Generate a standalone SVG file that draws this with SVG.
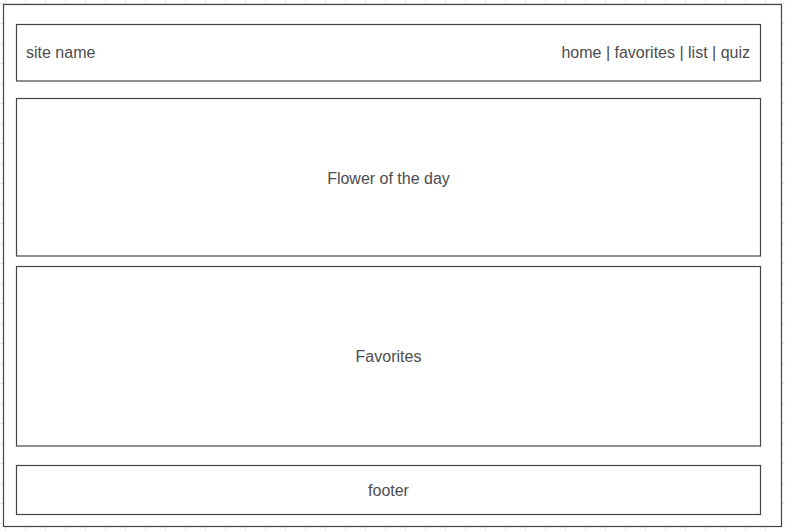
<svg xmlns="http://www.w3.org/2000/svg" width="785" height="531" viewBox="0 0 785 531">
<defs>
<pattern id="grid" x="5" y="3" width="20" height="20" patternUnits="userSpaceOnUse">
<path d="M0.5 0 V20 M0 0.5 H20" fill="none" stroke="#e6e6e6" stroke-width="1"/>
</pattern>
</defs>
<style>
.box{fill:#ffffff;stroke:#444444;stroke-width:1.2}
.lbl{font-family:"Liberation Sans",Arial,sans-serif;font-size:16px;fill:#4d4d4d}
</style>
<rect x="0" y="0" width="785" height="531" fill="#ffffff"/>
<rect x="0" y="0" width="785" height="531" fill="url(#grid)"/>
<g id="page"><rect class="box" x="3.5" y="4.5" width="778" height="522"/></g>
<g id="header">
<rect class="box" x="16.5" y="24.5" width="744" height="56.5"/>
<text class="lbl" x="26" y="58">site name</text>
<text class="lbl" x="750" y="58" text-anchor="end">home | favorites | list | quiz</text>
</g>
<g id="flower">
<rect class="box" x="16.5" y="98.5" width="744" height="157.5"/>
<text class="lbl" x="388.5" y="183.5" text-anchor="middle">Flower of the day</text>
</g>
<g id="favorites">
<rect class="box" x="16.5" y="266.5" width="744" height="179.5"/>
<text class="lbl" x="388.5" y="362" text-anchor="middle">Favorites</text>
</g>
<g id="footer">
<rect class="box" x="16.5" y="465.5" width="744" height="49"/>
<text class="lbl" x="388.5" y="495.5" text-anchor="middle">footer</text>
</g>
<g id="connectors"/>
</svg>
